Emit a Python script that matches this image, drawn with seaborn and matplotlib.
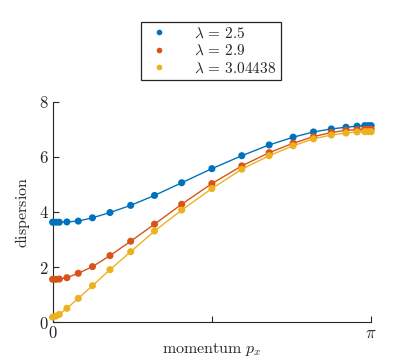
import numpy as np
import pandas as pd
import matplotlib
matplotlib.use("Agg")
import matplotlib.pyplot as plt
import seaborn as sns

# momentum sample points
px = [0.0, 0.033, 0.066, 0.141, 0.253, 0.393, 0.566, 0.770, 1.005, 1.273, 1.571,
      1.866, 2.136, 2.372, 2.573, 2.749, 2.893, 3.003, 3.079, 3.113, 3.1416]

disp_25 = [3.63, 3.63, 3.63, 3.64, 3.67, 3.79, 3.98, 4.24, 4.60, 5.06, 5.57,
           6.04, 6.43, 6.71, 6.90, 7.01, 7.07, 7.11, 7.13, 7.13, 7.13]
disp_29 = [1.56, 1.56, 1.57, 1.62, 1.78, 2.02, 2.42, 2.94, 3.56, 4.28, 5.03,
           5.67, 6.15, 6.49, 6.73, 6.88, 6.96, 6.98, 7.00, 7.00, 7.00]
disp_304 = [0.19, 0.23, 0.29, 0.51, 0.87, 1.33, 1.91, 2.56, 3.31, 4.07, 4.85,
            5.55, 6.04, 6.40, 6.65, 6.79, 6.86, 6.90, 6.91, 6.91, 6.91]

labels = [r"$\lambda\,=\,2.5$", r"$\lambda\,=\,2.9$", r"$\lambda\,=\,3.04438$"]
colors = ["#0072BD", "#D95319", "#EDB120"]

df = pd.concat([
    pd.DataFrame({"px": px, "E": vals, "lam": lab})
    for vals, lab in zip([disp_25, disp_29, disp_304], labels)
])

sns.set_style("ticks")
plt.rcParams["mathtext.fontset"] = "cm"
plt.rcParams["font.family"] = ["DejaVu Serif"]
plt.rcParams["axes.edgecolor"] = "#262626"
plt.rcParams["xtick.color"] = "#262626"
plt.rcParams["ytick.color"] = "#262626"

fig = plt.figure(figsize=(4.11, 3.59), dpi=100)
ax = fig.add_axes([0.128, 0.102, 0.775, 0.615])

palette = dict(zip(labels, colors))
sns.lineplot(data=df, x="px", y="E", hue="lam", palette=palette,
             linewidth=1.0, legend=False, ax=ax, sort=False)
sns.scatterplot(data=df, x="px", y="E", hue="lam", palette=palette,
                s=26, linewidth=0, ax=ax, zorder=3, clip_on=False)

ax.set_xlim(0, np.pi)
ax.set_ylim(0, 8)
ax.set_xticks([0, np.pi / 2, np.pi])
ax.set_xticklabels([r"$0$", "", r"$\pi$"], fontsize=12)
ax.set_yticks([0, 2, 4, 6, 8])
ax.set_yticklabels([r"$0$", r"$2$", r"$4$", r"$6$", r"$8$"], fontsize=12)
ax.tick_params(direction="in", length=4, width=0.8)
ax.tick_params(axis="x", pad=2)
ax.tick_params(axis="y", pad=3)
for side in ["left", "bottom"]:
    ax.spines[side].set_linewidth(0.8)
sns.despine(ax=ax)

ax.set_xlabel(r"$\mathrm{momentum}\ p_x$", fontsize=11.5)
ax.set_ylabel(r"$\mathrm{dispersion}$", fontsize=11.5)
ax.xaxis.set_label_coords(0.5, -0.085)
ax.yaxis.set_label_coords(-0.065, 0.5)

handles, _ = ax.get_legend_handles_labels()
leg = ax.legend(handles, labels, loc="upper center",
                bbox_to_anchor=(0.513, 0.94), bbox_transform=fig.transFigure,
                fontsize=11, frameon=True, fancybox=False, framealpha=1,
                edgecolor="#262626", handletextpad=1.4, borderpad=0.3,
                labelspacing=0.2, markerscale=0.8, handlelength=1.8,
                borderaxespad=0)
leg.get_frame().set_linewidth(0.9)

fig.savefig("out.png", dpi=100)
